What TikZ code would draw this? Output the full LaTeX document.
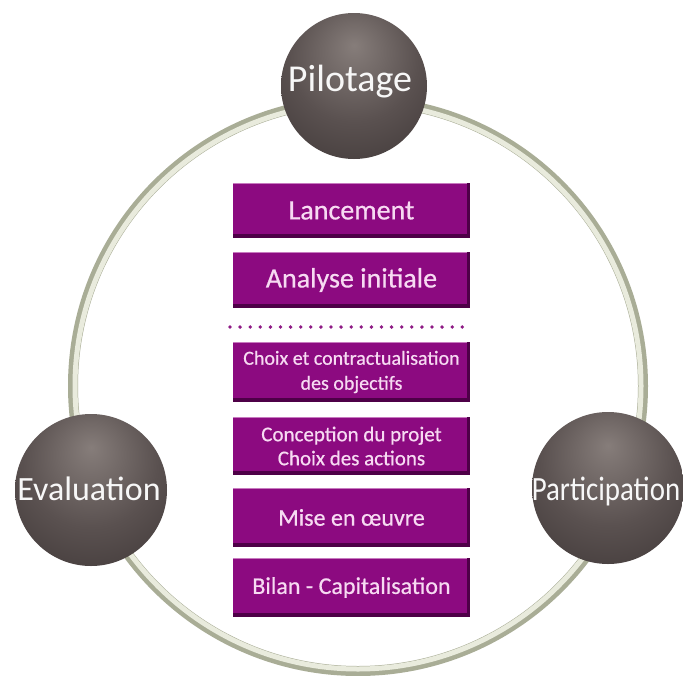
\documentclass[tikz,border=0pt]{standalone}
\usepackage{fontspec}
\usepackage{graphicx}
\setmainfont{Carlito}
\newfontfamily\boxfont[FakeBold=0.6]{Carlito}
\definecolor{ringdark}{HTML}{A9AD96}
\definecolor{ringlight}{HTML}{E9EBDD}
\definecolor{sphA}{HTML}{867D7A}
\definecolor{sphB}{HTML}{5A5150}
\definecolor{sphC}{HTML}{352E2E}
\definecolor{boxfill}{HTML}{8C0A80}
\definecolor{boxdark}{HTML}{4E0047}
\definecolor{boxlight}{HTML}{C77ABF}
\definecolor{boxtext}{HTML}{F7DAF2}
\definecolor{dotcol}{HTML}{8E1A85}
\pgfdeclareradialshading{sphshade}{\pgfpoint{0bp}{14bp}}{color(0bp)=(sphA); color(22bp)=(sphB); color(48bp)=(sphC); color(70bp)=(sphC)}
\tikzset{
  sphere/.style={circle, minimum size=#1, inner sep=0pt, shading=sphshade},
  spheretext/.style={text=white!94!gray, anchor=base},
  stepbox/.style={rectangle, fill=boxfill, minimum width=237pt, inner sep=0pt,
    text=boxtext, align=center},
}
\begin{document}
\begin{tikzpicture}[x=1pt,y=-1pt]
\useasboundingbox (0,0) rectangle (683,675);
\clip (0,0) rectangle (683,675);
\fill[white] (0,0) rectangle (683,675);
% ring
\draw[ringdark, line width=10pt] (358,386) circle[radius=285pt];
\draw[ringlight, line width=5pt] (358,386) circle[radius=283pt];
% spheres
\node[sphere=146pt] (pil) at (354,86) {};
\node[sphere=152pt] (eva) at (91,490) {};
\node[sphere=152pt] (par) at (608,488) {};
\node[spheretext, font=\fontsize{38}{42}\selectfont] at (350,91) {Pilotage};
\node[spheretext, font=\fontsize{34}{38}\selectfont] at (89,500) {Evaluation};
\node[spheretext, font=\fontsize{34}{38}\selectfont] at (606,500) {\scalebox{0.85}[1]{Participation}};
% boxes
\node[stepbox, minimum height=55pt, font=\boxfont\fontsize{28}{30}\selectfont] (b1) at (351.5,210.5) {Lancement};
\node[stepbox, minimum height=56pt, font=\boxfont\fontsize{28}{30}\selectfont] (b2) at (351.5,280) {Analyse initiale};
\node[stepbox, minimum height=60pt, font=\boxfont\fontsize{20}{25}\selectfont] (b3) at (351.5,372) {Choix et contractualisation\\des objectifs};
\node[stepbox, minimum height=58pt, font=\boxfont\fontsize{21}{24}\selectfont] (b4) at (351.5,446) {Conception du projet\\Choix des actions};
\node[stepbox, minimum height=59pt, font=\boxfont\fontsize{24}{28}\selectfont] (b5) at (351.5,517.5) {Mise en œuvre};
\node[stepbox, minimum height=59pt, font=\boxfont\fontsize{24}{28}\selectfont] (b6) at (351.5,587.5) {Bilan - Capitalisation};
\foreach \b in {b1,b2,b3,b4,b5,b6}{
  \fill[boxdark] (\b.south west) rectangle ([yshift=4pt]\b.south east);
  \fill[boxdark] (\b.south east) rectangle ([xshift=-3pt]\b.north east);
  \fill[boxlight] (\b.north west) rectangle ([yshift=-1.5pt,xshift=-3pt]\b.north east);
}
% dotted separator
\coordinate (d1) at (230,327);
\coordinate (d2) at (472,327);
\draw[dotcol, line width=3.8pt, line cap=round, dash pattern=on 0pt off 10.1pt] (d1) -- (d2);
\end{tikzpicture}
\end{document}
